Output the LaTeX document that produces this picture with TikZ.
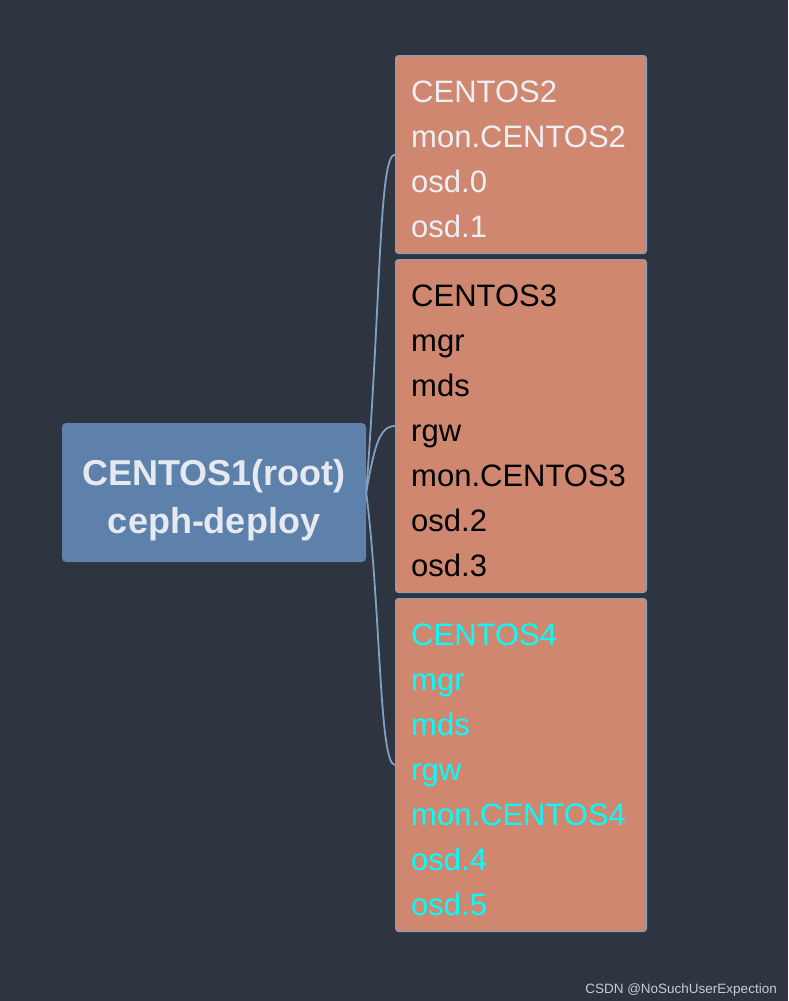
\documentclass[tikz,border=0pt]{standalone}
\usepackage{fontspec}
\setmainfont{Liberation Sans}
\usepackage{xcolor}
\usepackage{tikz}
\usetikzlibrary{calc}
\definecolor{nordBg}{HTML}{2E3440}
\definecolor{nordBlue}{HTML}{5E81AC}
\definecolor{nordFrost}{HTML}{81A1C1}
\definecolor{nordOrange}{HTML}{D08770}
\definecolor{nordSnow}{HTML}{ECEFF4}
\definecolor{rootText}{HTML}{E5E9F0}
\definecolor{markGray}{HTML}{C8CCD4}
\definecolor{aquaText}{HTML}{00FFFF}

\begin{document}
\begin{tikzpicture}[x=1pt, y=-1pt,
  hostbox/.style={draw=nordFrost, line width=1pt, fill=nordOrange, rounded corners=3pt, minimum width=251pt, anchor=north west, inner sep=0pt},
  hostlist/.style={anchor=north west, align=left, inner sep=0pt, font=\fontsize{31}{45}\selectfont},
  branch/.style={draw=nordFrost, line width=1.8pt}]
% --- canvas ---
\fill[nordBg] (0,0) rectangle (788,1001);
% --- root host ---
\node[fill=nordBlue, rounded corners=4pt, minimum width=304pt, minimum height=139pt, inner sep=0pt] (Root) at (214,492.5) {};
\node[align=center, inner sep=0pt, text=rootText, font=\bfseries\fontsize{36}{48}\selectfont] (RootLabel) at ($(Root.center)+(0,8)$) {CENTOS1(root)\\ceph-deploy};
% --- CENTOS2 ---
\node[hostbox, minimum height=198pt] (Host2) at (395,55) {};
\node[hostlist, text=nordSnow] (Host2List) at ($(Host2.north west)+(16,26)$) {CENTOS2\\mon.CENTOS2\\osd.0\\osd.1};
% --- CENTOS3 ---
\node[hostbox, minimum height=333pt] (Host3) at (395,259) {};
\node[hostlist, text=black] (Host3List) at ($(Host3.north west)+(16,26)$) {CENTOS3\\mgr\\mds\\rgw\\mon.CENTOS3\\osd.2\\osd.3};
% --- CENTOS4 ---
\node[hostbox, minimum height=333pt] (Host4) at (395,598) {};
\node[hostlist, text=aquaText] (Host4List) at ($(Host4.north west)+(16,26)$) {CENTOS4\\mgr\\mds\\rgw\\mon.CENTOS4\\osd.4\\osd.5};
% --- branches ---
\draw[branch] (Root.east) .. controls ($(Root.east)+(15,-200)$) and ($(Host2.west)+(-16,0)$) .. (Host2.west);
\draw[branch] (Root.east) .. controls ($(Root.east)+(8,-45)$) and ($(Host3.west)+(-16,0)$) .. (Host3.west);
\draw[branch] (Root.east) .. controls ($(Root.east)+(15,120)$) and ($(Host4.west)+(-16,0)$) .. (Host4.west);
% --- watermark ---
\node[anchor=base east, inner sep=0pt, text=markGray, font=\fontsize{13.5}{15}\selectfont] (Mark) at (777,993) {CSDN @NoSuchUserExpection};
\end{tikzpicture}
\end{document}
